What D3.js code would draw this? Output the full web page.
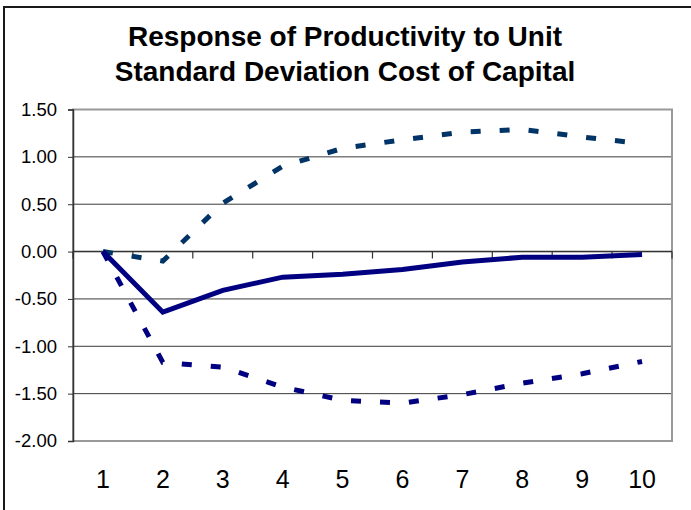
<!DOCTYPE html>
<meta charset="utf-8">
<style>
body { margin: 0; background: #fff; }
svg { display: block; font-family: Arial, "Liberation Sans", sans-serif; }
</style>
<body>
<svg width="691" height="510"></svg>
<script src="https://d3js.org/d3.v7.min.js"></script>
<script>
// periods after the shock
var periods = [1, 2, 3, 4, 5, 6, 7, 8, 9, 10];
// impulse response and its upper / lower bands
var response = [0.00, -0.64, -0.41, -0.27, -0.24, -0.19, -0.11, -0.06, -0.06, -0.03];
var upperBand = [0.00, -0.10, 0.51, 0.90, 1.09, 1.18, 1.26, 1.29, 1.21, 1.14];
var lowerBand = [0.00, -1.17, -1.22, -1.43, -1.57, -1.60, -1.51, -1.39, -1.29, -1.16];
var yTicks = [1.5, 1.0, 0.5, 0.0, -0.5, -1.0, -1.5, -2.0];
var titleLines = ["Response of Productivity to Unit", "Standard Deviation Cost of Capital"];

var svg = d3.select("svg"),
  margin = {top: 109.5, right: 19, bottom: 69, left: 73},
  width = +svg.attr("width") - margin.left - margin.right,
  height = +svg.attr("height") - margin.top - margin.bottom;

// chart area border (only top and left show in the picture)
svg.append("rect")
  .attr("x", 4).attr("y", 7)
  .attr("width", 800).attr("height", 600)
  .attr("fill", "none")
  .attr("stroke", "#1a1a1a")
  .attr("stroke-width", 2);

svg.append("text")
  .attr("text-anchor", "middle")
  .attr("font-weight", "bold")
  .attr("font-size", 28)
  .selectAll("tspan")
  .data(titleLines)
  .join("tspan")
  .attr("x", 345)
  .attr("y", function(d, i) { return 46 + i * 35; })
  .text(function(d) { return d; });

var g = svg.append("g").attr("transform", "translate(" + margin.left + "," + margin.top + ")");

var x = d3.scaleBand().domain(periods).range([0, width]);
var y = d3.scaleLinear().domain([-2, 1.5]).range([height, 0]);

// gridlines
g.append("g")
  .selectAll("line")
  .data(yTicks.filter(function(d) { return d < 1.5 && d > -2; }))
  .join("line")
  .attr("x1", 0).attr("x2", width)
  .attr("y1", function(d) { return y(d); })
  .attr("y2", function(d) { return y(d); })
  .attr("stroke", "#3a3a3a")
  .attr("stroke-width", 1);

// plot area frame
g.append("rect")
  .attr("width", width).attr("height", height)
  .attr("fill", "none")
  .attr("stroke", "#999")
  .attr("stroke-width", 2);

// y axis
var yAxis = g.append("g")
  .call(d3.axisLeft(y).tickValues(yTicks).tickFormat(d3.format(".2f")).tickSize(5).tickPadding(11));
yAxis.select(".domain").attr("stroke", "#333").attr("stroke-width", 1.5);
yAxis.selectAll(".tick line").attr("stroke", "#333");
yAxis.selectAll("text")
  .attr("font-size", 18.5)
  .attr("font-family", "Arial, 'Liberation Sans', sans-serif")
  .attr("fill", "#000")
  .text(function(d) { return d3.format(".2f")(d).replace("\u2212", "-"); });

// horizontal axis crossing at zero, ticks between categories
var zeroAxis = g.append("g").attr("transform", "translate(0," + y(0) + ")");
zeroAxis.append("line")
  .attr("x1", 0).attr("x2", width)
  .attr("stroke", "#333").attr("stroke-width", 1.5);
zeroAxis.selectAll("line.tk")
  .data(periods.concat([11]))
  .join("line")
  .attr("class", "tk")
  .attr("x1", function(d, i) { return i * x.step(); })
  .attr("x2", function(d, i) { return i * x.step(); })
  .attr("y1", 0).attr("y2", 7)
  .attr("stroke", "#333").attr("stroke-width", 1.2);

// category labels at the bottom
g.append("g")
  .selectAll("text")
  .data(periods)
  .join("text")
  .attr("x", function(d) { return x(d) + x.bandwidth() / 2; })
  .attr("y", height + 47)
  .attr("text-anchor", "middle")
  .attr("font-size", 25)
  .text(function(d) { return d; });

var line = d3.line()
  .x(function(d, i) { return x(periods[i]) + x.bandwidth() / 2; })
  .y(function(d) { return y(d); });

g.append("path")
  .datum(upperBand)
  .attr("d", line)
  .attr("fill", "none")
  .attr("stroke", "#003366")
  .attr("stroke-width", 5)
  .attr("stroke-dasharray", "10,19");

g.append("path")
  .datum(lowerBand)
  .attr("d", line)
  .attr("fill", "none")
  .attr("stroke", "#000080")
  .attr("stroke-width", 5)
  .attr("stroke-dasharray", "10,19");

g.append("path")
  .datum(response)
  .attr("d", line)
  .attr("fill", "none")
  .attr("stroke", "#000080")
  .attr("stroke-width", 5);
</script>
</body>
